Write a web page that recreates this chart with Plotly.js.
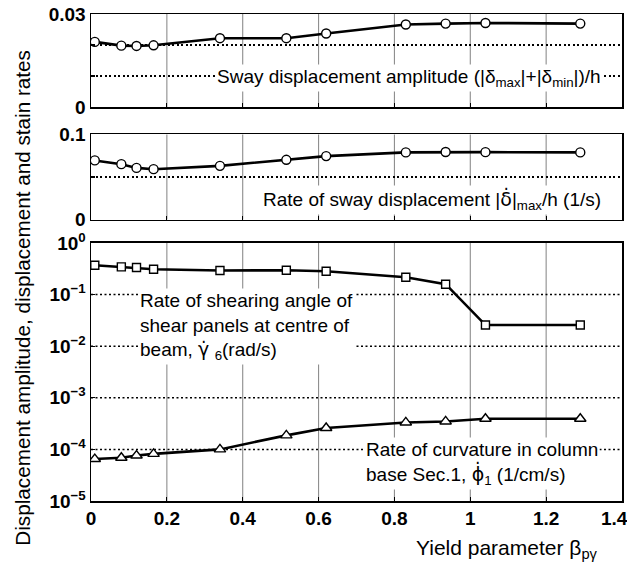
<!DOCTYPE html>
<html>
<head>
<meta charset="utf-8">
<script src="https://cdn.plot.ly/plotly-3.0.1.min.js"></script>
<style>
  html, body { margin: 0; padding: 0; background: #fff; }
  #chart { width: 627px; height: 571px; }
  /* keep the dotted grid crisp */
  #chart .xgrid, #chart .ygrid { shape-rendering: geometricPrecision !important; }
</style>
</head>
<body>
<div id="chart"></div>
<script>
// Yield parameter beta_py for each test run
const beta = [0.01, 0.08, 0.12, 0.165, 0.34, 0.515, 0.62, 0.83, 0.935, 1.04, 1.29];

// Sway displacement amplitude (|d_max| + |d_min|) / h
const swayAmplitude = [0.021, 0.0198, 0.0197, 0.0199, 0.0222, 0.0222, 0.0237, 0.0266, 0.0269, 0.0271, 0.0269];

// Rate of sway displacement |d'|_max / h  (1/s)
const swayRate = [0.0695, 0.0651, 0.0607, 0.0592, 0.0631, 0.0702, 0.0746, 0.0789, 0.0794, 0.0792, 0.0789];

// Rate of shearing angle of shear panels at centre of beam (rad/s)
const shearRate = [0.37, 0.344, 0.335, 0.31, 0.293, 0.297, 0.284, 0.217, 0.159, 0.0257, 0.0257];

// Rate of curvature in column base Sec.1 (1/cm/s)
const curvatureRate = [6.5e-5, 6.9e-5, 7.6e-5, 8.2e-5, 1.0e-4, 1.87e-4, 2.6e-4, 3.33e-4, 3.48e-4, 3.93e-4, 3.93e-4];

// Axis ticks (the last x label is padded so it stays inside the page)
const xTicks = [0, 0.2, 0.4, 0.6, 0.8, 1, 1.2, 1.4];
const xTickText = ['0', '0.2', '0.4', '0.6', '0.8', '1', '1.2', '1.4\u00a0\u00a0\u00a0'];
const topTicks = [0, 0.01, 0.02, 0.03];
const topTickText = ['0', '', '', '0.03'];
const midTicks = [0, 0.05, 0.1];
const midTickText = ['0', '', '0.1'];
const logTicks = [1e-5, 1e-4, 1e-3, 1e-2, 1e-1, 1];
const logTickText = ['10<sup>−5</sup>', '10<sup>−4</sup>', '10<sup>−3</sup>', '10<sup>−2</sup>', '10<sup>−1</sup>', '10<sup>0</sup>'];

const FONT = 'Liberation Sans, Arial, sans-serif';
// Dotted-over letters use a font with good combining-mark support
const dotted = (ch) => '<span style="font-family:DejaVu Sans">' + ch + '\u0307</span>';

const lineStyle = { color: '#000', width: 2.6 };
const openMarker = (symbol, size) => ({
  symbol: symbol, size: size, color: '#fff',
  line: { color: '#000', width: 1.4 }
});

const traces = [
  { x: beta, y: swayAmplitude, xaxis: 'x3', yaxis: 'y3', mode: 'lines+markers',
    line: lineStyle, marker: openMarker('circle', 9) },
  { x: beta, y: swayRate, xaxis: 'x2', yaxis: 'y2', mode: 'lines+markers',
    line: lineStyle, marker: openMarker('circle', 9) },
  { x: beta, y: shearRate, xaxis: 'x', yaxis: 'y', mode: 'lines+markers',
    line: lineStyle, marker: openMarker('square', 8) },
  { x: beta, y: curvatureRate, xaxis: 'x', yaxis: 'y', mode: 'lines+markers',
    line: lineStyle, marker: openMarker('triangle-up', 10) }
];

const gridLine = { color: '#000', width: 1.5, dash: '2px,2.5px' };
// Fine vertical grid: a thin grey rule that reads like the dotted one
const vGridLine = { color: 'rgba(0,0,0,0.45)', width: 1.1 };

const gridCommon = {
  showgrid: true, gridcolor: gridLine.color, gridwidth: gridLine.width, griddash: gridLine.dash,
  showline: true, linecolor: '#000', linewidth: 1.5, mirror: true,
  ticks: 'inside', ticklen: 4, tickcolor: '#000', tickwidth: 1.2,
  zeroline: false
};

// Vertical grid at the interior x ticks, drawn as shapes in each panel
const panels = [['x', 'y'], ['x2', 'y2'], ['x3', 'y3']];
const xGrid = [];
panels.forEach(([xa, ya]) => {
  xTicks.filter(v => v > 0 && v < 1.4).forEach(v => {
    xGrid.push({ type: 'line', xref: xa, yref: ya + ' domain', x0: v, x1: v, y0: 0, y1: 1,
      layer: 'below', line: vGridLine });
  });
});

const xCommon = Object.assign({}, gridCommon, {
  showgrid: false,
  range: [0, 1.4], tickmode: 'array', tickvals: xTicks, ticktext: xTickText,
  ticklabeloverflow: 'allow'
});

const tickFont = { family: FONT, size: 19, weight: 'bold' };
const noteFont = { family: FONT, size: 19 };

const layout = {
  width: 627, height: 571,
  margin: { l: 91, r: 5, t: 14, b: 70 },
  paper_bgcolor: '#fff', plot_bgcolor: '#fff',
  showlegend: false,
  font: { family: FONT, color: '#000', size: 16 },
  xaxis: Object.assign({}, xCommon, { anchor: 'y', showticklabels: true, tickfont: tickFont }),
  xaxis2: Object.assign({}, xCommon, { anchor: 'y2', showticklabels: false }),
  xaxis3: Object.assign({}, xCommon, { anchor: 'y3', showticklabels: false }),
  yaxis: Object.assign({}, gridCommon, {
    domain: [0, 0.5298], type: 'log', range: [-5, 0], anchor: 'x',
    tickmode: 'array', tickvals: logTicks, ticktext: logTickText, tickfont: tickFont
  }),
  yaxis2: Object.assign({}, gridCommon, {
    domain: [0.578, 0.7526], range: [0, 0.1], anchor: 'x2',
    tickmode: 'array', tickvals: midTicks, ticktext: midTickText, tickfont: tickFont
  }),
  yaxis3: Object.assign({}, gridCommon, {
    domain: [0.809, 1], range: [0, 0.03], anchor: 'x3',
    tickmode: 'array', tickvals: topTicks, ticktext: topTickText, tickfont: tickFont
  }),
  shapes: xGrid,
  annotations: [
    { xref: 'x3', yref: 'y3', x: 1.35, y: 0.0095, xanchor: 'right', yanchor: 'middle',
      text: 'Sway displacement amplitude (|δ<sub>max</sub>|+|δ<sub>min</sub>|)/h',
      showarrow: false, bgcolor: '#fff', font: noteFont },
    { xref: 'x2', yref: 'y2', x: 1.35, y: 0.0225, xanchor: 'right', yanchor: 'middle',
      text: 'Rate of sway displacement |' + dotted('δ') + '|<sub>max</sub>/h (1/s)',
      showarrow: false, bgcolor: '#fff', font: noteFont },
    { xref: 'x', yref: 'y', x: 0.125, y: -1.61, xanchor: 'left', yanchor: 'middle', align: 'left',
      text: 'Rate of shearing angle of<br>shear panels at centre of<br>beam, ' + dotted('γ') + ' <sub>6</sub>(rad/s)',
      showarrow: false, bgcolor: '#fff', font: noteFont },
    { xref: 'x', yref: 'y', x: 0.72, y: -4.275, xanchor: 'left', yanchor: 'middle', align: 'left',
      text: 'Rate of curvature in column<br>base Sec.1, ' + dotted('ϕ') + '<sub>1</sub> (1/cm/s)',
      showarrow: false, bgcolor: '#fff', font: noteFont },
    { xref: 'paper', yref: 'paper', x: 0.9585, y: -0.098, xanchor: 'right', yanchor: 'middle',
      text: 'Yield parameter β<sub>pγ</sub>',
      showarrow: false, font: { family: FONT, size: 21 } },
    { xref: 'paper', yref: 'paper', x: -0.1295, y: 0.418, xanchor: 'center', yanchor: 'middle',
      textangle: -90, text: 'Displacement amplitude, displacement and stain rates',
      showarrow: false, font: { family: FONT, size: 20.7 } }
  ]
};

Plotly.newPlot('chart', traces, layout, { staticPlot: true, displayModeBar: false });
</script>
</body>
</html>
